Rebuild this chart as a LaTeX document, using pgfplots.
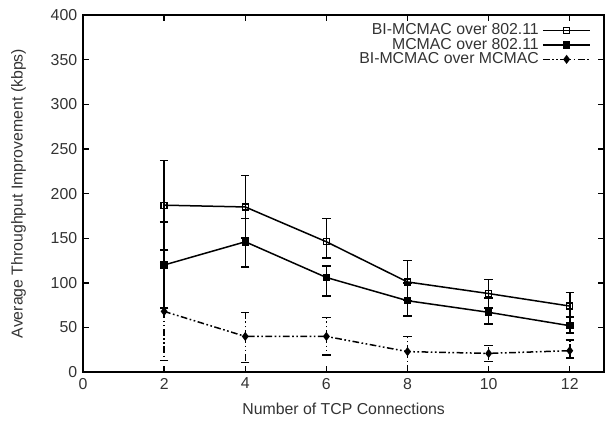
\documentclass[border=0pt]{standalone}
\usepackage{pgfplots}
\pgfplotsset{compat=1.18}
\usepackage{fontspec}
\setmainfont{Liberation Sans}
\begin{document}
\begin{tikzpicture}
\begin{axis}[
  scale only axis,
  width=312.6pt, height=214.2pt,
  xmin=0, xmax=12.85, ymin=0, ymax=400,
  xtick={0,2,...,12}, ytick={0,50,...,400},
  tick pos=both, tick align=inside,
  major tick length=3.6pt,
  axis line style={line width=0.9pt},
  every tick/.style={line width=0.8pt, black},
  font=\fontsize{9.5}{11}\selectfont,
  tick label style={text=black!80},
  label style={text=black!80},
  /pgf/number format/assume math mode=true,
  xlabel={Number of TCP Connections},
  ylabel={Average Throughput Improvement (kbps)},
  xlabel style={yshift=-1.5pt},
  ylabel style={yshift=8pt},
  legend style={draw=none, fill=none, at={(0.985,0.995)}, anchor=north east,
    row sep=-3.5pt, font=\fontsize{9.5}{11}\selectfont, text=black!80},
  legend cell align=right,
  legend plot pos=right,
  legend image code/.code={\draw[mark repeat=2,mark phase=2] plot coordinates {(0cm,0cm)(0.5cm,0cm)(1cm,0cm)};},
  clip=false,
]
% BI-MCMAC over 802.11
\addplot[black, line width=0.9pt, mark=square, mark size=1.8pt, mark options={solid, line width=0.8pt},
  error bars/.cd, y dir=both, y explicit,
  error bar style={line width=0.9pt, solid},
  error mark options={rotate=90, mark size=2.5pt, line width=0.9pt}]
coordinates {
(2,187) += (0,50) -= (0,50)
(4,185) += (0,35) -= (0,35)
(6,146) += (0,26) -= (0,18)
(8,101) += (0,24) -= (0,21)
(10,88) += (0,16) -= (0,16)
(12,74) += (0,15) -= (0,12)
};
\addlegendentry{BI-MCMAC over 802.11}
% MCMAC over 802.11
\addplot[black, line width=0.9pt, mark=square*, mark size=1.8pt, mark options={solid},
  error bars/.cd, y dir=both, y explicit,
  error bar style={line width=0.9pt, solid},
  error mark options={rotate=90, mark size=2.5pt, line width=0.9pt}]
coordinates {
(2,120) += (0,48) -= (0,48)
(4,146) += (0,26) -= (0,28)
(6,106) += (0,13) -= (0,21)
(8,80) += (0,20) -= (0,17)
(10,67) += (0,16) -= (0,13)
(12,52) += (0,10) -= (0,8)
};
\addlegendentry{MCMAC over 802.11}
% BI-MCMAC over MCMAC
\addplot[black, line width=0.9pt, dash pattern=on 4pt off 1.5pt on 1pt off 1.5pt on 1pt off 1.5pt,
  mark=diamond*, mark size=2pt, mark options={solid},
  error bars/.cd, y dir=both, y explicit,
  error bar style={line width=0.9pt, dash pattern=on 4pt off 1.5pt on 1pt off 1.5pt on 1pt off 1.5pt},
  error mark options={rotate=90, mark size=2.5pt, line width=0.9pt, solid}]
coordinates {
(2,68) += (0,55) -= (0,55)
(4,40) += (0,27) -= (0,29)
(6,40) += (0,21) -= (0,21)
(8,23) += (0,17) -= (0,23)
(10,21) += (0,9) -= (0,9)
(12,24) += (0,12) -= (0,8)
};
\addlegendentry{BI-MCMAC over MCMAC}
\end{axis}
\path ([shift={(-49.8pt,-29.4pt)}]current axis.south west) rectangle ([shift={(0pt,9pt)}]current axis.north east);
\end{tikzpicture}
\end{document}
